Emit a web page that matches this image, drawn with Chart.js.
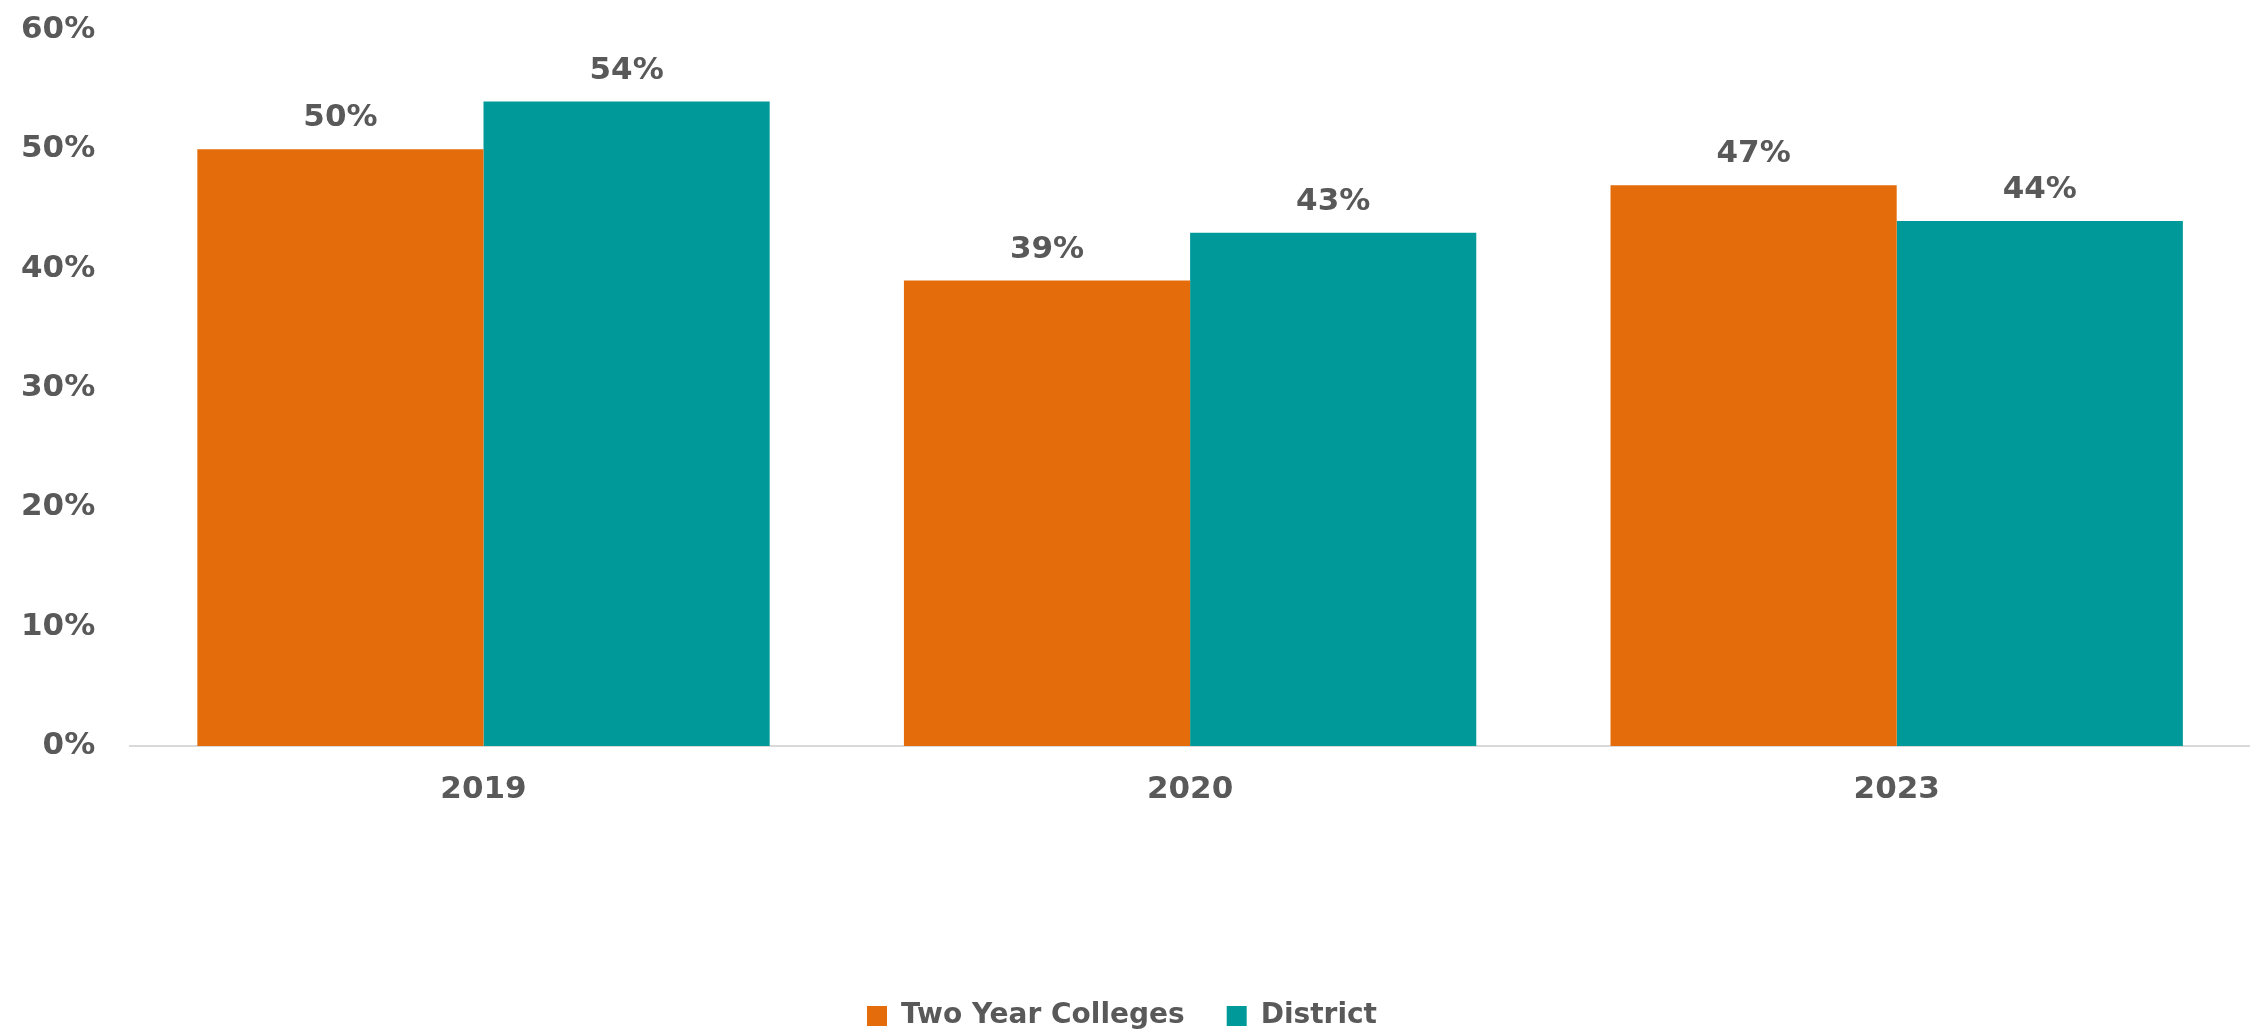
<!DOCTYPE html>
<html>
<head>
  <title>Two Year Colleges vs District</title>
  <script src="https://cdn.jsdelivr.net/npm/chart.js"></script>
  <style>
    body {
      margin: 0;
      padding: 0;
      background: #ffffff;
    }
    #chart-container {
      width: 2250px;
      height: 1032px;
    }
  </style>
</head>
<body>
  <div id="chart-container">
    <canvas id="myChart"></canvas>
  </div>

  <script>
    const years = ['2019', '2020', '2023'];
    const twoYearColleges = [50, 39, 47];
    const district = [54, 43, 44];
    const yTicks = [0, 10, 20, 30, 40, 50, 60];

    const gray = '#595959';
    const fontFamily = '"DejaVu Sans", sans-serif';

    // draw the value above every bar
    const valueLabels = {
      id: 'valueLabels',
      afterDatasetsDraw(chart) {
        const ctx = chart.ctx;
        ctx.save();
        ctx.font = 'bold 31px ' + fontFamily;
        ctx.fillStyle = gray;
        ctx.textAlign = 'center';
        ctx.textBaseline = 'middle';
        chart.data.datasets.forEach((ds, i) => {
          chart.getDatasetMeta(i).data.forEach((bar, j) => {
            ctx.fillText(ds.data[j] + '%', bar.x, bar.y - 31);
          });
        });
        ctx.restore();
      }
    };

    const ctx = document.getElementById('myChart').getContext('2d');
    const chart = new Chart(ctx, {
      type: 'bar',
      data: {
        labels: years,
        datasets: [
          {
            label: 'Two Year Colleges',
            data: twoYearColleges,
            backgroundColor: '#E46C0A'
          },
          {
            label: 'District',
            data: district,
            backgroundColor: '#009999'
          }
        ]
      },
      options: {
        responsive: true,
        maintainAspectRatio: false,
        animation: false,
        layout: {
          padding: { top: 0, right: 0, bottom: -8, left: -6 }
        },
        datasets: {
          bar: {
            categoryPercentage: 0.81,
            barPercentage: 1.0
          }
        },
        scales: {
          x: {
            grid: { display: false },
            border: { color: '#D9D9D9', width: 2 },
            ticks: {
              color: gray,
              font: { family: fontFamily, size: 31, weight: 'bold' },
              padding: 17
            },
            afterFit(scale) {
              scale.height = 214;
            }
          },
          y: {
            min: 0,
            max: 60,
            grid: { display: false },
            border: { display: false },
            afterBuildTicks(scale) {
              scale.ticks = yTicks.map(v => ({ value: v }));
            },
            afterFit(scale) {
              scale.paddingTop = 30;
            },
            ticks: {
              color: gray,
              font: { family: fontFamily, size: 31, weight: 'bold' },
              padding: 27,
              callback: v => v + '%'
            }
          }
        },
        plugins: {
          legend: {
            position: 'bottom',
            labels: {
              color: gray,
              font: { family: fontFamily, size: 28, weight: 'bold' },
              boxWidth: 20,
              boxHeight: 20,
              padding: 42
            }
          },
          tooltip: { enabled: false }
        }
      },
      plugins: [valueLabels]
    });
  </script>
</body>
</html>
